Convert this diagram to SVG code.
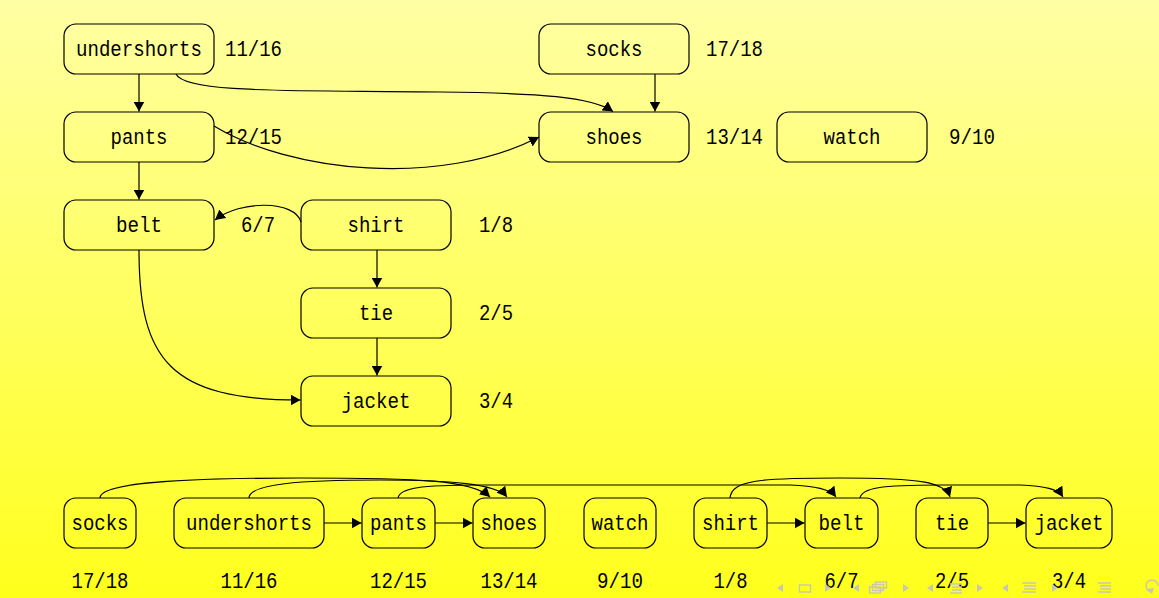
<svg xmlns="http://www.w3.org/2000/svg" width="1159" height="598" viewBox="0 0 1159 598">
<defs>
<linearGradient id="bg" x1="0" y1="0" x2="0" y2="1">
<stop offset="0" stop-color="#ffffa4"/>
<stop offset="1" stop-color="#ffff1c"/>
</linearGradient>
<marker id="ah" markerUnits="userSpaceOnUse" markerWidth="11" markerHeight="11" refX="10" refY="5.5" orient="auto">
<path d="M0,0 L10,5.5 L0,11 z" fill="#000"/>
</marker>
</defs>
<style>
.n rect{fill:none;stroke:#000;stroke-width:1.2}
text{font-family:"Liberation Mono","DejaVu Sans Mono",monospace;font-size:22px;fill:#000}
.c{text-anchor:middle}
.e path{fill:none;stroke:#000;stroke-width:1.2;marker-end:url(#ah)}
.nav *{fill:#c8c8b0;stroke:none}
.nav .s{fill:none;stroke:#c8c8b0;stroke-width:1.4}
</style>
<rect width="1159" height="598" fill="url(#bg)"/>

<g id="connectors" class="e">
<path d="M139,74 L139,111.5"/>
<path d="M655,74 L655,111.5"/>
<path d="M176,74 C185,94 300,90 440,92 C540,93 592,97 613,111.5"/>
<path d="M214,126 C290,172 440,188 539,137"/>
<path d="M139,162 L139,199.5"/>
<path d="M301,222 C295,200 240,200 215,220"/>
<path d="M377,250 L377,287.5"/>
<path d="M377,338 L377,375.5"/>
<path d="M139,250 C139,360 170,400 300.5,400"/>
<path d="M324,523 L361.5,523"/>
<path d="M435,523 L472.5,523"/>
<path d="M767,523 L804.5,523"/>
<path d="M988,523 L1025.5,523"/>
<path d="M100,498 C100,481 200,478 300,478 C420,478 472,480 490,497"/>
<path d="M249,498 C249,484 300,480 380,480 C450,480 497,484 507,497"/>
<path d="M398,498 C400,488 420,485 480,485 L790,485 C815,486 830,489 836,497"/>
<path d="M730,498 C732,480 760,478 840,478 C920,478 945,482 950,497"/>
<path d="M860,498 C862,488 880,485 940,485 L1020,485 C1045,486 1058,489 1063,497"/>
</g>

<g id="undershorts" class="n"><rect x="64" y="24" width="150" height="50" rx="12"/><text class="c" x="139" y="56" textLength="126" lengthAdjust="spacingAndGlyphs">undershorts</text><text x="225" y="56" textLength="57" lengthAdjust="spacingAndGlyphs">11/16</text></g>
<g id="socks" class="n"><rect x="539" y="24" width="150" height="50" rx="12"/><text class="c" x="614" y="56" textLength="57" lengthAdjust="spacingAndGlyphs">socks</text><text x="706" y="56" textLength="57" lengthAdjust="spacingAndGlyphs">17/18</text></g>
<g id="pants" class="n"><rect x="64" y="112" width="150" height="50" rx="12"/><text class="c" x="139" y="144" textLength="57" lengthAdjust="spacingAndGlyphs">pants</text><text x="225" y="144" textLength="57" lengthAdjust="spacingAndGlyphs">12/15</text></g>
<g id="shoes" class="n"><rect x="539" y="112" width="150" height="50" rx="12"/><text class="c" x="614" y="144" textLength="57" lengthAdjust="spacingAndGlyphs">shoes</text><text x="706" y="144" textLength="57" lengthAdjust="spacingAndGlyphs">13/14</text></g>
<g id="watch" class="n"><rect x="777" y="112" width="150" height="50" rx="12"/><text class="c" x="852" y="144" textLength="57" lengthAdjust="spacingAndGlyphs">watch</text><text x="949" y="144" textLength="46" lengthAdjust="spacingAndGlyphs">9/10</text></g>
<g id="belt" class="n"><rect x="64" y="200" width="150" height="50" rx="12"/><text class="c" x="139" y="232" textLength="46" lengthAdjust="spacingAndGlyphs">belt</text><text x="241" y="232" textLength="34" lengthAdjust="spacingAndGlyphs">6/7</text></g>
<g id="shirt" class="n"><rect x="301" y="200" width="150" height="50" rx="12"/><text class="c" x="376" y="232" textLength="57" lengthAdjust="spacingAndGlyphs">shirt</text><text x="479" y="232" textLength="34" lengthAdjust="spacingAndGlyphs">1/8</text></g>
<g id="tie" class="n"><rect x="301" y="288" width="150" height="50" rx="12"/><text class="c" x="376" y="320" textLength="34" lengthAdjust="spacingAndGlyphs">tie</text><text x="479" y="320" textLength="34" lengthAdjust="spacingAndGlyphs">2/5</text></g>
<g id="jacket" class="n"><rect x="301" y="376" width="150" height="50" rx="12"/><text class="c" x="376" y="408" textLength="69" lengthAdjust="spacingAndGlyphs">jacket</text><text x="479" y="408" textLength="34" lengthAdjust="spacingAndGlyphs">3/4</text></g>

<g id="b-socks" class="n"><rect x="64" y="498" width="72" height="50" rx="12"/><text class="c" x="100" y="530" textLength="57" lengthAdjust="spacingAndGlyphs">socks</text><text class="c" x="100" y="588" textLength="57" lengthAdjust="spacingAndGlyphs">17/18</text></g>
<g id="b-undershorts" class="n"><rect x="174" y="498" width="150" height="50" rx="12"/><text class="c" x="249" y="530" textLength="126" lengthAdjust="spacingAndGlyphs">undershorts</text><text class="c" x="249" y="588" textLength="57" lengthAdjust="spacingAndGlyphs">11/16</text></g>
<g id="b-pants" class="n"><rect x="362" y="498" width="73" height="50" rx="12"/><text class="c" x="398.5" y="530" textLength="57" lengthAdjust="spacingAndGlyphs">pants</text><text class="c" x="398.5" y="588" textLength="57" lengthAdjust="spacingAndGlyphs">12/15</text></g>
<g id="b-shoes" class="n"><rect x="473" y="498" width="72" height="50" rx="12"/><text class="c" x="509" y="530" textLength="57" lengthAdjust="spacingAndGlyphs">shoes</text><text class="c" x="509" y="588" textLength="57" lengthAdjust="spacingAndGlyphs">13/14</text></g>
<g id="b-watch" class="n"><rect x="584" y="498" width="72" height="50" rx="12"/><text class="c" x="620" y="530" textLength="57" lengthAdjust="spacingAndGlyphs">watch</text><text class="c" x="620" y="588" textLength="46" lengthAdjust="spacingAndGlyphs">9/10</text></g>
<g id="b-shirt" class="n"><rect x="694" y="498" width="73" height="50" rx="12"/><text class="c" x="730.5" y="530" textLength="57" lengthAdjust="spacingAndGlyphs">shirt</text><text class="c" x="730.5" y="588" textLength="34" lengthAdjust="spacingAndGlyphs">1/8</text></g>
<g id="b-belt" class="n"><rect x="805" y="498" width="73" height="50" rx="12"/><text class="c" x="841.5" y="530" textLength="46" lengthAdjust="spacingAndGlyphs">belt</text><text class="c" x="841.5" y="588" textLength="34" lengthAdjust="spacingAndGlyphs">6/7</text></g>
<g id="b-tie" class="n"><rect x="916" y="498" width="72" height="50" rx="12"/><text class="c" x="952" y="530" textLength="34" lengthAdjust="spacingAndGlyphs">tie</text><text class="c" x="952" y="588" textLength="34" lengthAdjust="spacingAndGlyphs">2/5</text></g>
<g id="b-jacket" class="n"><rect x="1026" y="498" width="86" height="50" rx="12"/><text class="c" x="1069" y="530" textLength="69" lengthAdjust="spacingAndGlyphs">jacket</text><text class="c" x="1069" y="588" textLength="34" lengthAdjust="spacingAndGlyphs">3/4</text></g>

<g id="nav" class="nav">
<path d="M783,584 L777,588 L783,592 z"/>
<rect class="s" x="799.5" y="585" width="11" height="7"/>
<path d="M825,584 L831,588 L825,592 z"/>
<path d="M859,584 L853,588 L859,592 z"/>
<rect class="s" x="869.5" y="587" width="11" height="6"/>
<rect class="s" x="872.5" y="584.5" width="11" height="6"/>
<rect class="s" x="875.5" y="582" width="11" height="6"/>
<path d="M903,584 L909,588 L903,592 z"/>
<path d="M933,584 L927,588 L933,592 z"/>
<path class="s" d="M950,584 H962 M952,587 H962 M952,590 H962 M950,593 H962"/>
<path d="M977,584 L983,588 L977,592 z"/>
<path d="M1008,584 L1002,588 L1008,592 z"/>
<path class="s" d="M1022,583 H1036 M1024,586 H1036 M1024,589 H1036 M1022,592 H1036"/>
<path d="M1052,584 L1058,588 L1052,592 z"/>
<path class="s" d="M1098,583 H1111 M1100,586 H1111 M1100,589 H1111 M1098,592 H1111"/>
<path class="s" d="M1152,592 A6,6 0 1 1 1158,586"/>
<path d="M1147,589 L1152,594 L1154,588 z"/>
</g>
</svg>
